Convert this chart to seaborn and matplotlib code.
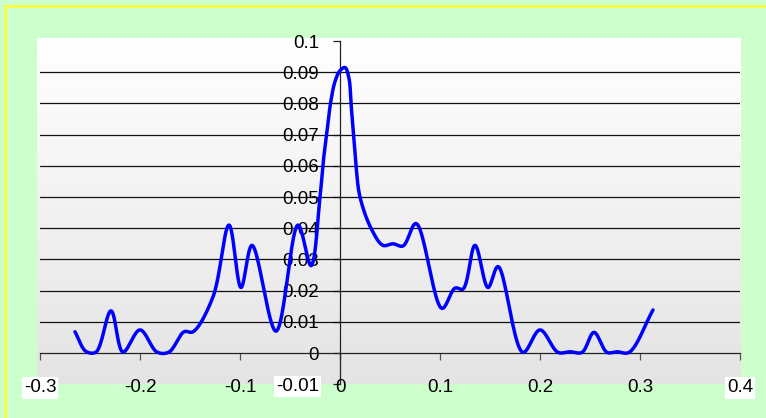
import numpy as np
import matplotlib
matplotlib.use("Agg")
import matplotlib.pyplot as plt
import matplotlib.transforms as mtransforms
from matplotlib.colors import LinearSegmentedColormap
from matplotlib.patches import Rectangle
import seaborn as sns

# Distribution curve: returns (x) against relative frequency (y)
x_vals = [-0.265, -0.254, -0.244, -0.229, -0.217, -0.200, -0.183, -0.171,
          -0.156, -0.147, -0.127, -0.111, -0.099, -0.088, -0.064, -0.042,
          -0.029, -0.020, -0.0165, -0.013, -0.0095, -0.005, 0.000, 0.005,
          0.009, 0.011, 0.0135, 0.016, 0.020, 0.031, 0.043, 0.053,
          0.063, 0.076, 0.102, 0.115, 0.123, 0.135, 0.148, 0.158,
          0.183, 0.200, 0.218, 0.230, 0.242, 0.254, 0.267, 0.277,
          0.289, 0.313]
y_vals = [0.0068, 0.0005, 0.0003, 0.0135, 0.0003, 0.0074, 0.0003, 0.0003,
          0.0068, 0.0068, 0.0180, 0.0410, 0.0210, 0.0345, 0.0070, 0.0410,
          0.0280, 0.0500, 0.0620, 0.0710, 0.0800, 0.0870, 0.0905, 0.0915,
          0.0880, 0.0800, 0.0700, 0.0600, 0.0500, 0.0400, 0.0345, 0.0350,
          0.0343, 0.0415, 0.0143, 0.0208, 0.0205, 0.0345, 0.0210, 0.0277,
          0.0002, 0.0074, 0.0002, 0.0004, 0.0002, 0.0066, 0.0002, 0.0004,
          0.0002, 0.0138]

x_ticks = [-0.3, -0.2, -0.1, 0, 0.1, 0.2, 0.3, 0.4]
x_tick_labels = ["-0.3", "-0.2", "-0.1", "0", "0.1", "0.2", "0.3", "0.4"]
y_ticks = [-0.01, 0, 0.01, 0.02, 0.03, 0.04, 0.05, 0.06, 0.07, 0.08, 0.09, 0.1]
y_tick_labels = ["-0.01", "0", "0.01", "0.02", "0.03", "0.04", "0.05",
                 "0.06", "0.07", "0.08", "0.09", "0.1"]


def smooth_curve(xs, ys, sx=1000.0, sy=3120.0, n=24, alpha=0.5):
    """Centripetal Catmull-Rom curve through the points (in screen-like scale)."""
    P = np.column_stack([np.asarray(xs) * sx, np.asarray(ys) * sy])
    P = np.vstack([2 * P[0] - P[1], P, 2 * P[-1] - P[-2]])
    out = []
    for i in range(1, len(P) - 2):
        p0, p1, p2, p3 = P[i - 1], P[i], P[i + 1], P[i + 2]
        t0 = 0.0
        t1 = t0 + max(np.linalg.norm(p1 - p0), 1e-6) ** alpha
        t2 = t1 + max(np.linalg.norm(p2 - p1), 1e-6) ** alpha
        t3 = t2 + max(np.linalg.norm(p3 - p2), 1e-6) ** alpha
        t = np.linspace(t1, t2, n, endpoint=False)[:, None]
        a1 = (t1 - t) / (t1 - t0) * p0 + (t - t0) / (t1 - t0) * p1
        a2 = (t2 - t) / (t2 - t1) * p1 + (t - t1) / (t2 - t1) * p2
        a3 = (t3 - t) / (t3 - t2) * p2 + (t - t2) / (t3 - t2) * p3
        b1 = (t2 - t) / (t2 - t0) * a1 + (t - t0) / (t2 - t0) * a2
        b2 = (t3 - t) / (t3 - t1) * a2 + (t - t1) / (t3 - t1) * a3
        c = (t2 - t) / (t2 - t1) * b1 + (t - t1) / (t2 - t1) * b2
        out.append(c)
    out.append(P[-2][None, :])
    C = np.vstack(out)
    return C[:, 0] / sx, C[:, 1] / sy


sns.set_theme(style="white")
plt.rcParams["font.family"] = ["Liberation Sans", "DejaVu Sans"]

W, H = 766, 418
fig = plt.figure(figsize=(W / 100, H / 100), dpi=100, facecolor="#CCFFCC")

# yellow frame (top and left edges visible)
fig.patches.append(Rectangle((4.5 / W, -0.1), 1.2, 1.1 - 6 / H, transform=fig.transFigure,
                             fill=False, edgecolor="#FFFF33", linewidth=1.8, zorder=0))

# plot-area gradient background
bg = fig.add_axes([37 / W, 1 - 384 / H, (741 - 37) / W, (384 - 38) / H], zorder=0)
grad = np.linspace(1, 0, 256)[:, None]
cmap = LinearSegmentedColormap.from_list("area", ["#E4E4E4", "#FFFFFF"])
bg.imshow(grad, aspect="auto", cmap=cmap, extent=[0, 1, 0, 1], vmin=0, vmax=1)
bg.axis("off")

ax = fig.add_axes([40 / W, 1 - 384.2 / H, 700 / W, (384.2 - 41) / H], zorder=1)
ax.set_facecolor("none")
ax.set_xlim(-0.3, 0.4)
ax.set_ylim(-0.01, 0.1)

# horizontal gridlines
for yv in y_ticks[2:-1]:
    ax.axhline(yv, color="#111111", linewidth=0.9, zorder=1)

for side in ["top", "right"]:
    ax.spines[side].set_visible(False)
ax.spines["left"].set_position(("data", 0))
ax.spines["bottom"].set_position(("data", 0))
for side in ["left", "bottom"]:
    ax.spines[side].set_color("#222222")
    ax.spines[side].set_linewidth(0.9)
    ax.spines[side].set_zorder(1.5)

ax.set_yticks(y_ticks)
ax.set_yticklabels(y_tick_labels)
ax.set_xticks(x_ticks)
ax.set_xticklabels([])
ax.tick_params(axis="y", direction="out", length=5, width=0.9, color="#222222",
               pad=10, labelsize=13.5, labelcolor="black", left=True)
ax.tick_params(axis="x", direction="out", length=5, width=0.9, color="#555555",
               bottom=True)
ax.get_yticklabels()[0].set_bbox(dict(facecolor="white", edgecolor="none", pad=1.5))

# x labels along the bottom of the plot area
tr = mtransforms.blended_transform_factory(ax.transData, fig.transFigure)
for xv, lab in zip(x_ticks, x_tick_labels):
    t = ax.text(xv, 1 - 388 / H, lab, transform=tr, ha="center", va="center",
                fontsize=13.5, color="black", zorder=5)
    if lab in ("-0.3", "0.4"):
        t.set_bbox(dict(facecolor="white", edgecolor="none", pad=1.5))

cx, cy = smooth_curve(x_vals, y_vals)
sns.lineplot(x=cx, y=cy, ax=ax, sort=False, estimator=None, color="#0000FF",
             linewidth=2.5, solid_capstyle="round", solid_joinstyle="round", zorder=3)
ax.set_xlabel("")
ax.set_ylabel("")

fig.savefig("out.png", dpi=100, facecolor=fig.get_facecolor())
